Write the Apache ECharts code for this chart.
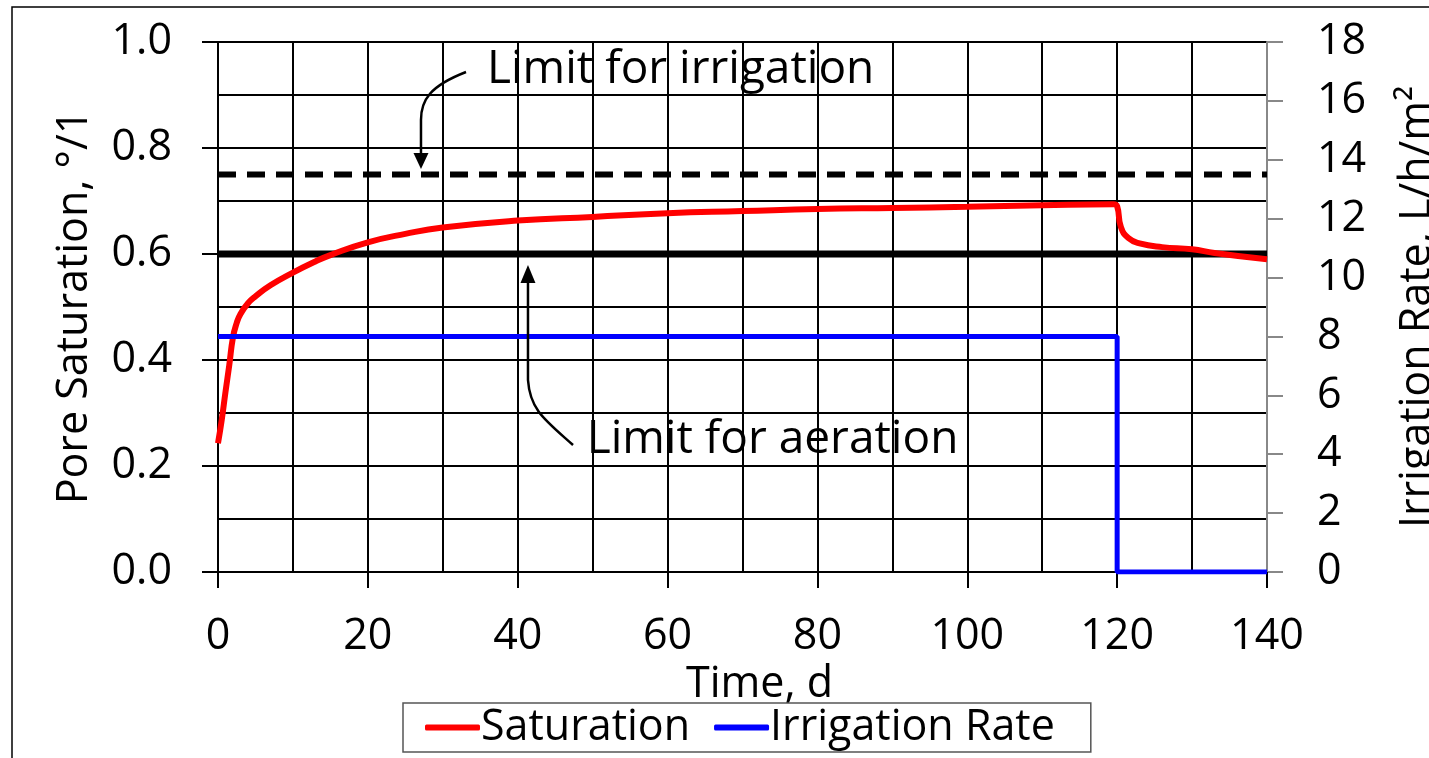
<!DOCTYPE html>
<html>
<head>
<meta charset="utf-8">
<title>Pore saturation and irrigation rate</title>
<script src="https://cdn.jsdelivr.net/npm/echarts@6/dist/echarts.min.js"></script>
<style>
  html, body { margin: 0; padding: 0; background: #fff; overflow: hidden; }
  #main { width: 1429px; height: 758px; }
</style>
</head>
<body>
<div id="main"></div>
<script>
// time axis (days) and pore saturation
const days = [0, 0.5, 1, 1.5, 2, 2.5, 3, 4, 5, 7, 10, 13, 15, 20, 25, 30, 40, 50, 60, 70, 80, 90, 100, 110, 119.5, 120, 120.5, 121.5, 123, 126, 130, 133, 140]
const saturation = [0.243, 0.287, 0.34, 0.39, 0.443, 0.47, 0.487, 0.507, 0.52, 0.541, 0.565, 0.586, 0.598, 0.622, 0.638, 0.65, 0.663, 0.67, 0.677, 0.681, 0.685, 0.687, 0.689, 0.692, 0.694, 0.69, 0.651, 0.63, 0.62, 0.613, 0.609, 0.602, 0.59]

// irrigation rate (L/h/m2), switched off at day 120
const irrigationDays = [0, 120, 120, 140]
const irrigationRate = [8, 8, 0, 0]

// horizontal limits
const limitDays = [0, 140]
const irrigationLimit = 0.75
const aerationLimit = 0.6

const FONT = '"Open Sans", "DejaVu Sans", sans-serif'
const FS = 43

const chart = echarts.init(document.getElementById('main'), null, { renderer: 'canvas' })

const pair = (xs, ys) => xs.map((x, i) => [x, ys[i]])

chart.setOption({
  animation: false,
  backgroundColor: '#fff',
  textStyle: { fontFamily: FONT, color: '#000' },
  grid: { left: 218, right: 162, top: 42, bottom: 186, containLabel: false, outerBoundsMode: 'none' },
  legend: {
    data: ['Saturation', 'Irrigation Rate'],
    left: 403,
    top: 703,
    icon: 'roundRect',
    itemWidth: 55,
    itemHeight: 6,
    itemGap: 24,
    borderColor: '#555',
    borderWidth: 1.5,
    padding: [3, 36, 3, 22],
    textStyle: { fontSize: FS, fontFamily: FONT, color: '#000', padding: [0, 0, 0, -4] }
  },
  xAxis: {
    type: 'value',
    min: 0,
    max: 140,
    interval: 20,
    name: 'Time, d',
    nameLocation: 'middle',
    nameGap: 72,
    nameTextStyle: { fontSize: FS, fontFamily: FONT, color: '#000', padding: [0, 0, 0, 34] },
    axisLine: { show: true, lineStyle: { color: '#000', width: 2 } },
    axisTick: { show: true, inside: false, length: 16, lineStyle: { color: '#000', width: 2 } },
    axisLabel: { fontSize: FS, fontFamily: FONT, color: '#000', margin: 43 },
    splitLine: { show: true, lineStyle: { color: '#000', width: 2 } },
    minorTick: { show: false, splitNumber: 2 },
    minorSplitLine: { show: true, lineStyle: { color: '#000', width: 2 } }
  },
  yAxis: [
    {
      type: 'value',
      min: 0,
      max: 1,
      interval: 0.2,
      name: 'Pore Saturation, °/1',
      nameLocation: 'middle',
      nameRotate: 90,
      nameGap: 122,
      nameTextStyle: { fontSize: FS, fontFamily: FONT, color: '#000' },
      axisLine: { show: true, lineStyle: { color: '#000', width: 2 } },
      axisTick: { show: true, inside: false, length: 16, lineStyle: { color: '#000', width: 2 } },
      axisLabel: { fontSize: FS, fontFamily: FONT, color: '#000', margin: 46, formatter: v => v.toFixed(1) },
      splitLine: { show: true, lineStyle: { color: '#000', width: 2 } },
      minorTick: { show: false, splitNumber: 2 },
      minorSplitLine: { show: true, lineStyle: { color: '#000', width: 2 } }
    },
    {
      type: 'value',
      position: 'right',
      min: 0,
      max: 18,
      interval: 2,
      name: 'Irrigation Rate, L/h/m²',
      nameLocation: 'middle',
      nameRotate: 90,
      nameGap: 129,
      nameTextStyle: { fontSize: FS, fontFamily: FONT, color: '#000' },
      axisLine: { show: true, lineStyle: { color: '#888', width: 2 } },
      axisTick: { show: true, inside: false, length: 16, lineStyle: { color: '#888', width: 2 } },
      axisLabel: { fontSize: FS, fontFamily: FONT, color: '#000', margin: 50 },
      splitLine: { show: false }
    }
  ],
  series: [
    {
      name: 'irrigation limit',
      type: 'line',
      data: pair(limitDays, [irrigationLimit, irrigationLimit]),
      symbol: 'none',
      silent: true,
      z: 2,
      lineStyle: { color: '#000', width: 6, type: [18, 11] }
    },
    {
      name: 'aeration limit',
      type: 'line',
      data: pair(limitDays, [aerationLimit, aerationLimit]),
      symbol: 'none',
      silent: true,
      z: 2,
      lineStyle: { color: '#000', width: 7 }
    },
    {
      name: 'Saturation',
      type: 'line',
      data: pair(days, saturation),
      symbol: 'none',
      smooth: 0.5,
      z: 3,
      color: '#ff0000',
      lineStyle: { color: '#ff0000', width: 6 }
    },
    {
      name: 'Irrigation Rate',
      type: 'line',
      yAxisIndex: 1,
      data: pair(irrigationDays, irrigationRate),
      symbol: 'none',
      z: 4,
      color: '#0000ff',
      lineStyle: { color: '#0000ff', width: 5 }
    }
  ]
})

// annotation arrows, anchored in data space (day, saturation)
const px = p => chart.convertToPixel({ xAxisIndex: 0, yAxisIndex: 0 }, p)

function arrow(start, cp1, cp2, bend, stem, tip, baseL, baseR) {
  const s = px(start), c1 = px(cp1), c2 = px(cp2), b = px(bend), e = px(stem)
  return [
    {
      type: 'bezierCurve',
      shape: { x1: s[0], y1: s[1], cpx1: c1[0], cpy1: c1[1], cpx2: c2[0], cpy2: c2[1], x2: b[0], y2: b[1] },
      style: { stroke: '#000', lineWidth: 2.5, fill: null },
      z: 10
    },
    {
      type: 'line',
      shape: { x1: b[0], y1: b[1], x2: e[0], y2: e[1] },
      style: { stroke: '#000', lineWidth: 2.5 },
      z: 10
    },
    {
      type: 'polygon',
      shape: { points: [px(tip), px(baseL), px(baseR)] },
      style: { fill: '#000' },
      z: 10
    }
  ]
}

const irrText = px([35.9, 0.947])
const aerText = px([49.2, 0.249])
const ANN_FONT = '46px ' + FONT

chart.setOption({
  graphic: [
    {
      type: 'rect',
      shape: { x: 12, y: 7, width: 1440, height: 800 },
      style: { stroke: '#000', lineWidth: 1.5, fill: null },
      silent: true
    },
    {
      type: 'text',
      x: irrText[0],
      y: irrText[1],
      style: { text: 'Limit for irrigation', font: ANN_FONT, fill: '#000', verticalAlign: 'middle' },
      z: 10
    },
    {
      type: 'text',
      x: aerText[0],
      y: aerText[1],
      style: { text: 'Limit for aeration', font: ANN_FONT, fill: '#000', verticalAlign: 'middle' },
      z: 10
    },
    ...arrow([33.1, 0.9434], [28.29, 0.917], [27.09, 0.8906], [27.09, 0.8528], [27.09, 0.7906], [27.09, 0.7604], [26.09, 0.7906], [28.09, 0.7906]),
    ...arrow([47.38, 0.2396], [43.64, 0.2868], [41.64, 0.3057], [41.37, 0.3623], [41.37, 0.5453], [41.37, 0.5792], [40.37, 0.5453], [42.37, 0.5453])
  ]
})
</script>
</body>
</html>
